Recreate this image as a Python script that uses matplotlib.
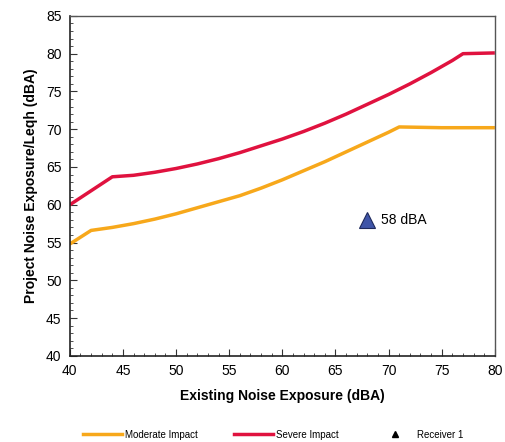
import numpy as np
import matplotlib.pyplot as plt
from matplotlib.lines import Line2D

plt.rcParams['font.family'] = ['Liberation Sans', 'DejaVu Sans']

# existing noise exposure (dBA)
mod_x = [40, 42, 44, 46, 48, 50, 52, 54, 56, 58, 60, 62, 64, 66, 68, 70, 71, 75, 80]
mod_y = [54.8, 56.6, 57.0, 57.5, 58.1, 58.8, 59.6, 60.4, 61.2, 62.2, 63.3, 64.5, 65.7, 67.0, 68.3, 69.6, 70.3, 70.2, 70.2]

sev_x = [40, 44, 46, 48, 50, 52, 54, 56, 58, 60, 62, 64, 66, 68, 70, 72, 74, 76, 77, 80]
sev_y = [60.0, 63.7, 63.9, 64.3, 64.8, 65.4, 66.1, 66.9, 67.8, 68.7, 69.7, 70.8, 72.0, 73.3, 74.6, 76.0, 77.5, 79.1, 80.0, 80.1]

rec_x = [68]
rec_y = [58]
rec_label = "58 dBA"

fig = plt.figure(figsize=(5.06, 4.42), dpi=100)
ax = fig.add_axes([0.138, 0.195, 0.840, 0.769])

ax.plot(mod_x, mod_y, color='#F7A81B', lw=2.5, solid_capstyle='butt')
ax.plot(sev_x, sev_y, color='#E0123F', lw=2.5, solid_capstyle='butt')
ax.plot(rec_x, rec_y, marker='^', ls='none', ms=11, mfc='#3F55A8', mec='#1F2A5C', mew=0.8)
ax.annotate(rec_label, (rec_x[0], rec_y[0]), xytext=(10, 0), textcoords='offset points',
            va='center', fontsize=10)

ax.set_xlim(40, 80)
ax.set_ylim(40, 85)
ax.set_xticks(np.arange(40, 81, 5))
ax.set_yticks(np.arange(40, 86, 5))
ax.set_xticks(np.arange(40, 81, 1), minor=True)
ax.set_yticks(np.arange(40, 86, 1), minor=True)
ax.tick_params(which='both', direction='in', labelsize=10, color='#333333')
ax.tick_params(which='major', length=5, pad=6)
ax.tick_params(which='minor', length=2.5)
ax.tick_params(top=False, right=False, which='both')

for s in ['left', 'bottom']:
    ax.spines[s].set_color('#222222')
    ax.spines[s].set_linewidth(1.2)
for s in ['top', 'right']:
    ax.spines[s].set_color('#555555')
    ax.spines[s].set_linewidth(1.0)

ax.set_xlabel('Existing Noise Exposure (dBA)', fontsize=10, fontweight='bold', labelpad=8)
ax.set_ylabel('Project Noise Exposure/Leqh (dBA)', fontsize=10, fontweight='bold', labelpad=6)

handles = [
    Line2D([], [], color='#F7A81B', lw=2.5),
    Line2D([], [], color='#E0123F', lw=2.5),
    Line2D([], [], color='black', marker='^', ls='none', ms=4),
]
labels = ['Moderate Impact', 'Severe Impact', 'Receiver 1']
fig.legend(handles, labels, loc='lower center', bbox_to_anchor=(0.54, -0.015), ncol=3,
           frameon=False, fontsize=7, handlelength=4.0, columnspacing=3.8, handletextpad=0.3)

fig.savefig('out.png', dpi=100)
